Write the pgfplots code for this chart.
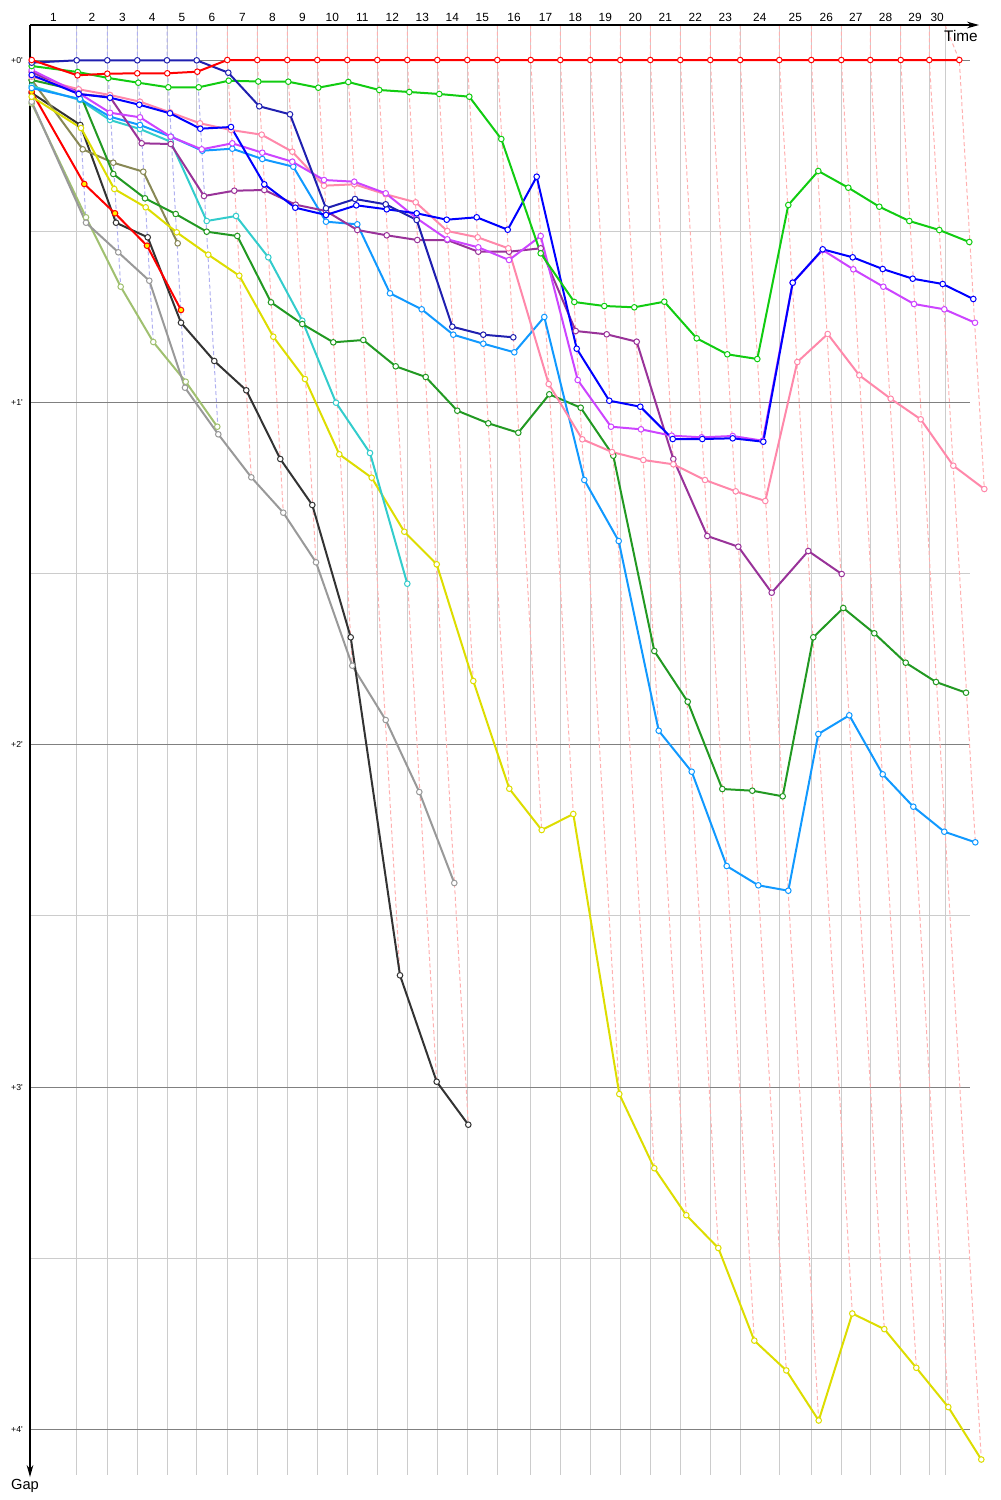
\documentclass[border=0pt]{standalone}
\usepackage{fontspec}
\setmainfont{Liberation Sans}
\usepackage{pgfplots}
\pgfplotsset{compat=1.18}
\usetikzlibrary{arrows.meta}
\definecolor{cRed}{HTML}{FF0000}
\definecolor{cNavy}{HTML}{2020B0}
\definecolor{cGreen}{HTML}{11CC11}
\definecolor{cBlue}{HTML}{0000FF}
\definecolor{cMag}{HTML}{CC44FF}
\definecolor{cPink}{HTML}{FF88AA}
\definecolor{cLBlue}{HTML}{1199FF}
\definecolor{cCyan}{HTML}{33CCCC}
\definecolor{cPurple}{HTML}{993399}
\definecolor{cDGreen}{HTML}{229922}
\definecolor{cYellow}{HTML}{DDDD00}
\definecolor{cOlive}{HTML}{888855}
\definecolor{cBlack}{HTML}{333333}
\definecolor{cGray}{HTML}{999999}
\definecolor{cLOlive}{HTML}{A0C070}
\definecolor{dashB}{HTML}{B0B0F0}
\definecolor{dashR}{HTML}{FFB0B0}
\definecolor{gridL}{HTML}{CCCCCC}
\definecolor{gridD}{HTML}{808080}
\pgfplotsset{
  ser/.style={line width=1.5pt, color=#1, mark=*, mark size=2.1pt,
    mark options={fill=white, draw=#1, line width=0.75pt, solid}},
  dl/.style={color=#1, line width=0.75pt, dash pattern=on 3pt off 2pt, no markers}
}
\tikzset{
  lapl/.style={anchor=base, font=\fontsize{8.9}{10}\selectfont, inner sep=0pt},
  yl/.style={anchor=base east, font=\fontsize{6.5}{7}\selectfont, inner sep=0pt}
}
\begin{document}
\begin{tikzpicture}
\begin{axis}[
  scale only axis, width=750pt, height=1125pt,
  xmin=0, xmax=1000, ymin=0, ymax=1500, y dir=reverse,
  enlargelimits=false, clip=false,
  axis line style={draw=none}, xtick=\empty, ytick=\empty,
]
% vertical grid lines
\pgfplotsinvokeforeach{76.7,107.3,137.3,167,196.7,227.3,257.3,287.3,317.3,347.3,377.3,407.3,437.3,467.3,497.3,530.7,560.3,590.3,620.3,650.3,680.3,710.3,740.2,779.3,811.3,841.3,870.3,900.7,929.3,945}{
  \draw[gridL, line width=0.75pt] (axis cs:#1,25) -- (axis cs:#1,1475);
}
\pgfplotsinvokeforeach{231,573,915,1258}{
  \draw[gridL, line width=0.75pt] (axis cs:30,#1) -- (axis cs:970,#1);
}
\pgfplotsinvokeforeach{60,402,744,1087,1429}{
  \draw[gridD, line width=0.75pt] (axis cs:30,#1) -- (axis cs:970,#1);
}
% lap lines
\addplot[dl=dashB] coordinates {(76.7,25)(76.7,60)(86,222.7)};
\addplot[dl=dashB] coordinates {(107.3,25)(107.3,60)(120.7,286.7)};
\addplot[dl=dashB] coordinates {(137.3,25)(137.3,60)(153.3,342)};
\addplot[dl=dashB] coordinates {(167,25)(167,60)(185,387.7)};
\addplot[dl=dashB] coordinates {(196.7,25)(196.7,60)(218.3,434.3)};
\addplot[dl=dashR] coordinates {(227.3,25)(227.3,60)(251.3,477.3)};
\addplot[dl=dashR] coordinates {(257.3,25)(257.3,60)(283.3,512.7)};
\addplot[dl=dashR] coordinates {(287.3,25)(287.3,60)(316,562.3)};
\addplot[dl=dashR] coordinates {(317.3,25)(317.3,60)(352.3,665.7)};
\addplot[dl=dashR] coordinates {(347.3,25)(347.3,60)(400,975.3)};
\addplot[dl=dashR] coordinates {(377.3,25)(377.3,60)(436.7,1081.7)};
\addplot[dl=dashR] coordinates {(407.3,25)(407.3,60)(468.3,1124.7)};
\addplot[dl=dashR] coordinates {(437.3,25)(437.3,60)(473.3,681)};
\addplot[dl=dashR] coordinates {(467.3,25)(467.3,60)(509.3,788.7)};
\addplot[dl=dashR] coordinates {(497.3,25)(497.3,60)(541.7,830)};
\addplot[dl=dashR] coordinates {(530.7,25)(530.7,60)(573.3,814)};
\addplot[dl=dashR] coordinates {(560.3,25)(560.3,60)(619.3,1094)};
\addplot[dl=dashR] coordinates {(590.3,25)(590.3,60)(654.3,1168.2)};
\addplot[dl=dashR] coordinates {(620.3,25)(620.3,60)(686.3,1215.2)};
\addplot[dl=dashR] coordinates {(650.3,25)(650.3,60)(718.3,1248)};
\addplot[dl=dashR] coordinates {(680.3,25)(680.3,60)(754.3,1340.6)};
\addplot[dl=dashR] coordinates {(710.3,25)(710.3,60)(786.3,1370.4)};
\addplot[dl=dashR] coordinates {(740.2,25)(740.2,60)(818.7,1420.5)};
\addplot[dl=dashR] coordinates {(779.3,25)(779.3,60)(852.3,1313.5)};
\addplot[dl=dashR] coordinates {(811.3,25)(811.3,60)(884.3,1329.1)};
\addplot[dl=dashR] coordinates {(841.3,25)(841.3,60)(916.3,1367.8)};
\addplot[dl=dashR] coordinates {(870.3,25)(870.3,60)(948.3,1407.1)};
\addplot[dl=dashR] coordinates {(900.7,25)(900.7,60)(981.3,1459.5)};
\addplot[dl=dashR] coordinates {(929.3,25)(929.3,60)(975.3,842.3)};
\addplot[dl=dashR] coordinates {(945,25)(959.3,60)(984.3,489)};
% series
\addplot[ser=cLOlive] coordinates {(31.7,103.3)(86,217.3)(120.7,286.7)(153.3,342)(185.7,381.7)(217.3,426.7)};
\addplot[ser=cGray] coordinates {(31.7,101.7)(86,222.7)(118.3,252.3)(149.3,280.7)(185,387.7)(218.3,434.3)(251.3,477.3)(283.3,512.7)(316,562.3)(352.3,665.7)(385.7,720)(419.3,792)(454.3,883)};
\addplot[ser=cBlack] coordinates {(31.7,93)(80.3,125)(116,222.7)(147.7,237.3)(181,322.7)(214.3,361)(246.3,390.3)(280.3,459)(312.3,505)(350.7,637.3)(400,975.3)(436.7,1081.7)(468.3,1124.7)};
\addplot[line width=1.5pt, color=cRed, mark=*, mark size=2.1pt, mark options={fill=yellow, draw=cRed, line width=0.75pt}] coordinates {(31.7,91.7)(84.3,184)(115,213.3)(147,245.7)(181,310)};
\addplot[ser=cOlive] coordinates {(31.7,80)(82.7,149.3)(113.3,162.7)(143.3,171.7)(177.7,243.3)};
\addplot[ser=cYellow] coordinates {(31.7,96.7)(81,128)(114.3,189)(145.7,207.3)(176.7,232.3)(208.3,254.7)(239.3,275.7)(273.3,336.7)(305,379)(339.3,454.3)(371.7,477.7)(404.3,531.7)(436.7,564.3)(473.3,681)(509.3,788.7)(541.7,830)(573.3,814)(619.3,1094)(654.3,1168.2)(686.3,1215.2)(718.3,1248)(754.3,1340.6)(786.3,1370.4)(818.7,1420.5)(852.3,1313.5)(884.3,1329.1)(916.3,1367.8)(948.3,1407.1)(981.3,1459.5)};
\addplot[ser=cCyan] coordinates {(31.7,86)(80,100)(110,120)(140,129)(170.7,141.7)(206.7,221)(236,216)(268.3,257.3)(302.3,320.7)(336,402.7)(370,453)(407.3,583.7)};
\addplot[ser=cDGreen] coordinates {(31.7,80)(78.7,90.7)(113.3,174)(145,198.3)(175.7,214)(206.7,231.7)(237.3,236)(271,302.3)(302.3,324)(333.3,342.3)(363.3,340)(395.7,366.3)(425.7,377)(457.3,410.7)(488.3,423.3)(518.3,432.7)(549.3,394.3)(580.7,407.7)(613.3,455.7)(654.3,651)(687.7,701.7)(722.3,789)(752.3,790.7)(782.7,796.3)(813.3,637.3)(843.3,608)(874.3,633.3)(905.7,662.7)(936,682)(966,692.7)};
\addplot[ser=cLBlue] coordinates {(31.7,88)(80,99)(110,116.7)(140,125)(171,136.7)(202.3,150.7)(232.3,148.7)(262.3,159)(293.3,166.7)(326,221.7)(357.3,224.3)(390,293.3)(421.7,309.3)(453.3,334.7)(483.3,343.7)(514.3,352.3)(544.3,317)(584.3,480)(618.7,541)(658.7,730.7)(691.7,771.7)(726.7,866)(758.3,885.3)(788.3,890.7)(818.3,734)(849.3,715.3)(882.7,774.3)(913.3,806.7)(944.3,831.7)(975.3,842.3)};
\addplot[ser=cPurple] coordinates {(31.7,72)(78.7,94)(110,97)(141.7,143.3)(170.7,144)(204,196)(234.3,190.7)(264.3,190)(295.7,204.7)(326,211)(357.3,230)(386.7,235.3)(417.3,240)(447.3,240)(478.3,251.7)(509,251.7)(540.7,248.3)(575.7,331)(606.7,334.3)(636.7,341.7)(673.3,459)(707.3,536)(738.3,546.7)(771.7,592.7)(808.3,551)(841.7,574)};
\addplot[ser=cPink] coordinates {(31.7,76.7)(78.7,89.3)(110,95)(140,101.7)(170,112.3)(200,123.3)(231,130)(261.7,134.7)(292.3,151.7)(324,185.7)(354.3,184.3)(385.7,194.3)(415.7,202.3)(447.3,231)(477.7,237.3)(508.3,248.3)(548.7,384)(582.3,439.3)(612,452)(643.3,460)(673.3,464.3)(705,480)(735.7,491.3)(765.3,501)(797.3,362)(827.7,334)(859.3,375.3)(890.7,398.7)(920.7,419.3)(953.3,465.7)(984.3,489)};
\addplot[ser=cMag] coordinates {(31.7,70)(78.7,93)(110,112.7)(140,117.3)(170.7,136.7)(201.7,149.3)(232.3,143.3)(262.3,152.7)(292.3,161.7)(324,180)(354.3,181.7)(385.7,193.3)(416.7,218.3)(447.3,239.3)(478.3,247.3)(509,260)(540.7,236)(577.7,380)(611,426.7)(641,429.3)(671.7,435.7)(701.7,437.3)(732.7,436)(762.7,440.7)(792.7,282.7)(822.7,250)(853.3,269.3)(883.3,286.7)(914,304)(944.3,309.3)(975,322.7)};
\addplot[ser=cBlue] coordinates {(31.7,75)(78.7,94)(110,97.7)(139.3,104.7)(170,113.3)(200.3,128.7)(231,127)(264.3,184.3)(295.3,207.7)(326,215)(356.3,205.3)(386.7,209.3)(416.7,213.3)(446.7,219.7)(476.7,217.3)(507.7,229.7)(536.7,176.7)(576.7,348.7)(609.3,400.7)(640.3,406.7)(672.7,439)(702.3,439)(732.7,438.3)(763.3,441.7)(792.7,282.7)(822.7,249.3)(852.7,257.3)(882.7,269)(912.7,278.7)(942.7,284)(973.3,299)};
\addplot[ser=cGreen] coordinates {(31.7,66)(77.7,72)(108.3,78)(138.3,82.7)(168.3,87.3)(198.7,87.3)(228.7,80.7)(258.3,81.5)(288.3,81.7)(318.3,87.7)(348.3,82)(379.3,90)(409.3,92)(439.3,94)(469.3,96.7)(501.3,139)(540.7,253.3)(574.3,302)(604.3,306)(634.3,307.3)(664.3,301.7)(696.7,338.3)(727.3,354.3)(757.3,359)(788.3,205)(818.3,171)(848.3,187.7)(879.3,206.7)(909.3,221)(939.3,230)(969.3,242)};
\addplot[ser=cNavy] coordinates {(31.7,62.7)(76.7,60.3)(107.3,60.3)(137.3,60.3)(167,60.3)(196.7,60.3)(228.3,72.7)(259.3,106.3)(290,114.3)(326,208.3)(355,199)(385.7,204.3)(416.7,220)(452.3,326.7)(483.3,334.7)(513.3,337.3)};
\addplot[ser=cRed] coordinates {(31.7,60)(77.5,75.3)(107.3,73.7)(137.3,73.3)(167.3,73.3)(197.3,71.7)(227.3,60)(257.3,60)(287.3,60)(317.3,60)(347.3,60)(377.3,60)(407.3,60)(437.3,60)(467.3,60)(497.3,60)(530.7,60)(560.3,60)(590.3,60)(620.3,60)(650.3,60)(680.3,60)(710.3,60)(740.2,60)(779.3,60)(811.3,60)(841.3,60)(870.3,60)(900.7,60)(929.3,60)(959.3,60)};
% axes
\draw[black, line width=0.9pt, -{Stealth[length=9pt,width=5pt]}] (axis cs:30,25) -- (axis cs:979,25);
\draw[black, line width=0.9pt, -{Stealth[length=9pt,width=5pt]}] (axis cs:30,25) -- (axis cs:30,1477);
\node[anchor=base east, font=\fontsize{11.5}{13}\selectfont, inner sep=0pt] at (axis cs:978,41) {Time};
\node[anchor=base, font=\fontsize{11}{13}\selectfont, inner sep=0pt] at (axis cs:25,1489) {Gap};
% y labels
\node[yl] at (axis cs:23,63) {+0\textquotesingle};
\node[yl] at (axis cs:23,405) {+1\textquotesingle};
\node[yl] at (axis cs:23,747) {+2\textquotesingle};
\node[yl] at (axis cs:23,1090) {+3\textquotesingle};
\node[yl] at (axis cs:23,1432) {+4\textquotesingle};
% lap labels
\node[lapl] at (axis cs:53.3,21.5) {1};
\node[lapl] at (axis cs:92,21.5) {2};
\node[lapl] at (axis cs:122.3,21.5) {3};
\node[lapl] at (axis cs:152.2,21.5) {4};
\node[lapl] at (axis cs:181.9,21.5) {5};
\node[lapl] at (axis cs:212,21.5) {6};
\node[lapl] at (axis cs:242.3,21.5) {7};
\node[lapl] at (axis cs:272.3,21.5) {8};
\node[lapl] at (axis cs:302.3,21.5) {9};
\node[lapl] at (axis cs:332.3,21.5) {10};
\node[lapl] at (axis cs:362.3,21.5) {11};
\node[lapl] at (axis cs:392.3,21.5) {12};
\node[lapl] at (axis cs:422.3,21.5) {13};
\node[lapl] at (axis cs:452.3,21.5) {14};
\node[lapl] at (axis cs:482.3,21.5) {15};
\node[lapl] at (axis cs:514,21.5) {16};
\node[lapl] at (axis cs:545.5,21.5) {17};
\node[lapl] at (axis cs:575.3,21.5) {18};
\node[lapl] at (axis cs:605.3,21.5) {19};
\node[lapl] at (axis cs:635.3,21.5) {20};
\node[lapl] at (axis cs:665.3,21.5) {21};
\node[lapl] at (axis cs:695.3,21.5) {22};
\node[lapl] at (axis cs:725.3,21.5) {23};
\node[lapl] at (axis cs:759.8,21.5) {24};
\node[lapl] at (axis cs:795.3,21.5) {25};
\node[lapl] at (axis cs:826.3,21.5) {26};
\node[lapl] at (axis cs:855.8,21.5) {27};
\node[lapl] at (axis cs:885.5,21.5) {28};
\node[lapl] at (axis cs:915,21.5) {29};
\node[lapl] at (axis cs:937.2,21.5) {30};
\path (axis cs:0,0) rectangle (axis cs:1000,1500);
\end{axis}
\end{tikzpicture}
\end{document}
